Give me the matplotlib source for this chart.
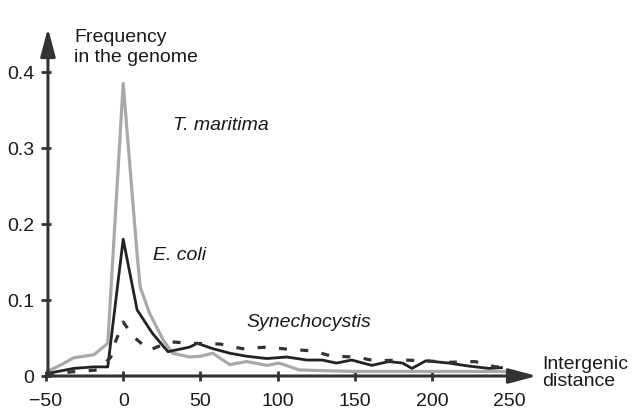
import matplotlib
matplotlib.use("Agg")
import matplotlib.pyplot as plt

plt.rcParams["font.family"] = ["Liberation Sans", "DejaVu Sans"]

# T. maritima (grey)
x_tm = [-50, -40, -32, -19, -10, 0, 9, 11, 17, 26, 32, 43, 50, 58, 69, 80, 93, 101, 114, 130, 150, 200, 250]
y_tm = [0.005, 0.015, 0.024, 0.028, 0.043, 0.385, 0.16, 0.117, 0.083, 0.047, 0.03, 0.025,
        0.026, 0.03, 0.015, 0.019, 0.014, 0.017, 0.008, 0.007, 0.006, 0.006, 0.006]

# E. coli (black solid)
x_ec = [-50, -32, -19, -10, 0, 9, 19, 29, 43, 48, 58, 69, 80, 93, 106, 119, 129, 138,
        148, 161, 172, 181, 187, 196, 211, 224, 237, 245]
y_ec = [0.003, 0.01, 0.012, 0.012, 0.18, 0.087, 0.056, 0.032, 0.038, 0.043, 0.036, 0.03,
        0.026, 0.023, 0.025, 0.021, 0.021, 0.017, 0.021, 0.014, 0.019, 0.017, 0.01, 0.02,
        0.017, 0.013, 0.01, 0.011]

# Synechocystis (dashed)
x_sy = [-50, -16, -8, -5, 0, 7, 17, 30, 45, 63, 77, 93, 108, 123, 135, 151, 163, 181,
        196, 211, 228, 241, 248]
y_sy = [0.003, 0.008, 0.025, 0.045, 0.071, 0.051, 0.034, 0.045, 0.043, 0.042, 0.036,
        0.038, 0.035, 0.033, 0.026, 0.025, 0.02, 0.021, 0.02, 0.018, 0.019, 0.012, 0.012]

x_ticks = [-50, 0, 50, 100, 150, 200, 250]
y_ticks = [0, 0.1, 0.2, 0.3, 0.4]
y_ticklabels = ["0", "0.1", "0.2", "0.3", "0.4"]

axis_col = "#333333"

fig = plt.figure(figsize=(6.4, 4.19), dpi=100)
ax = fig.add_axes([46 / 640, 43 / 419, 491 / 640, 348 / 419])

ax.plot(x_tm, y_tm, color="#a9a9a9", lw=2.3)
ax.plot(x_ec, y_ec, color="#222222", lw=2.0)
ax.plot(x_sy, y_sy, color="#333333", lw=2.3, dashes=(2.5, 4.2))

ax.set_xlim(-50, 268)
ax.set_ylim(0, 0.458)

for s in ax.spines.values():
    s.set_visible(False)

# axes drawn as arrows
arrow = dict(arrowstyle="-|>,head_length=1.7,head_width=0.45", color=axis_col,
             lw=2.2, mutation_scale=10, shrinkA=0, shrinkB=0)
ax.annotate("", xy=(1, 0), xytext=(0, 0), xycoords="axes fraction",
            arrowprops=arrow, annotation_clip=False)
ax.annotate("", xy=(0.004, 1), xytext=(0.004, 0), xycoords="axes fraction",
            arrowprops=arrow, annotation_clip=False)

ax.set_xticks(x_ticks)
ax.set_yticks(y_ticks)
ax.set_yticklabels(y_ticklabels)
ax.tick_params(direction="inout", length=7, width=2, color=axis_col,
               labelsize=14, labelcolor="#1a1a1a")
ax.tick_params(axis="x", pad=9)
ax.tick_params(axis="y", pad=5)

txt = dict(fontsize=14, color="#1a1a1a")
ax.text(74 / 640, 1 - 29 / 419, "Frequency\nin the genome", transform=fig.transFigure,
        ha="left", va="top", linespacing=1.2, **txt)
ax.text(32, 0.33, "T. maritima", style="italic", ha="left", va="center", **txt)
ax.text(19.5, 0.159, "E. coli", style="italic", ha="left", va="center", **txt)
ax.text(80, 0.071, "Synechocystis", style="italic", ha="left", va="center", **txt)
ax.text(542 / 640, 46 / 419, "Intergenic\ndistance", transform=fig.transFigure,
        ha="left", va="center", linespacing=1.05, **txt)

fig.savefig("out.png", dpi=100)
